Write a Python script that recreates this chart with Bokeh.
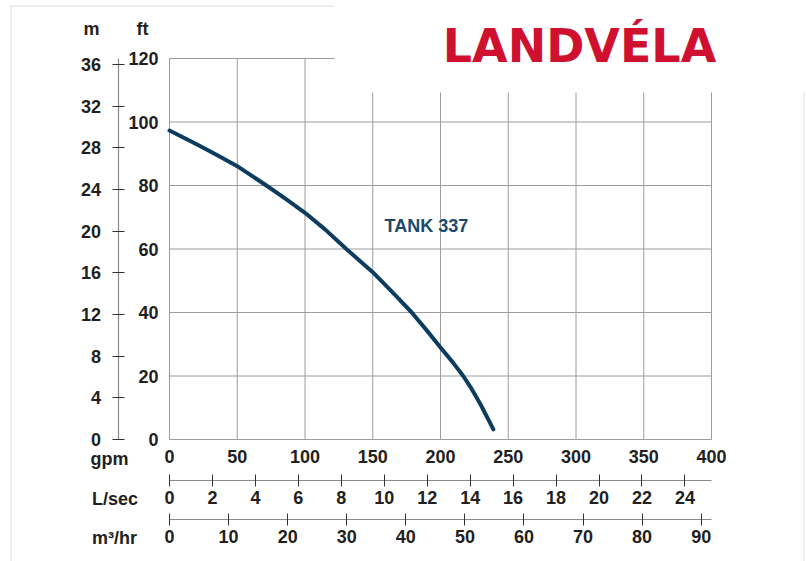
from bokeh.plotting import figure
from bokeh.models import Range1d, LinearAxis, FixedTicker, Label, BoxAnnotation
from bokeh.embed import file_html
from bokeh.resources import INLINE

# ---- data ----
flow_gpm = [0, 20, 35, 50, 71.5, 85, 100, 115, 130.5, 150, 165, 178.8, 190, 200, 208.5,
            216.8, 222, 226, 230, 233, 236, 239]
head_ft = [97.3, 93.0, 89.6, 86.1, 80, 76.0, 71.4, 66.1, 60, 52.7, 46.2, 40, 34.3, 29, 24.6,
           20, 16.6, 13.7, 10.7, 8.2, 5.7, 3.2]
series_name = "TANK 337"

gpm_ticks = [0, 50, 100, 150, 200, 250, 300, 350, 400]
ft_ticks = [0, 20, 40, 60, 80, 100, 120]
m_ticks = [0, 4, 8, 12, 16, 20, 24, 28, 32, 36]
lps_ticks = [0, 2, 4, 6, 8, 10, 12, 14, 16, 18, 20, 22, 24]
m3h_ticks = [0, 10, 20, 30, 40, 50, 60, 70, 80, 90]

GPM_MAX = 400
FT_MAX = 120
FT_PER_M = 3.28084
GPM_PER_LPS = 15.8503
GPM_PER_M3H = 4.36

# ---- layout: the frame covers the whole canvas; chart box is 169..711 x 58..439 px ----
W, H = 806, 561
X0, X1 = 169, 711
Y0, Y1 = 439, 58
SX = (X1 - X0) / GPM_MAX
SY = (Y0 - Y1) / FT_MAX

def px(x):
    return (x - X0) / SX

def py(y):
    return (Y0 - y) / SY

FONT = "Liberation Sans"
TXT = "#231f20"
GRID = "#9c9c9c"
AXLINE = "#8a8a8a"
CURVE = "#0c3d5f"

p = figure(frame_width=W, frame_height=H,
           min_border_left=0, min_border_right=0, min_border_top=0, min_border_bottom=0,
           x_range=Range1d(px(0), px(W)), y_range=Range1d(py(H), py(0)),
           x_axis_location=None, y_axis_location=None,
           output_backend="svg", toolbar_location=None, title=None)
p.outline_line_color = None
p.background_fill_color = "white"
p.border_fill_color = "white"
p.grid.visible = False

p.extra_y_ranges = {"m": Range1d(py(H) / FT_PER_M, py(0) / FT_PER_M)}
p.extra_x_ranges = {"lps": Range1d(px(0) / GPM_PER_LPS, px(W) / GPM_PER_LPS),
                    "m3h": Range1d(px(0) / GPM_PER_M3H, px(W) / GPM_PER_M3H)}

# grid lines, drawn from the tick arrays
p.segment(x0=gpm_ticks, y0=[0] * len(gpm_ticks), x1=gpm_ticks, y1=[FT_MAX] * len(gpm_ticks),
          line_color=GRID, line_width=1)
p.segment(x0=[0] * len(ft_ticks), y0=ft_ticks, x1=[GPM_MAX] * len(ft_ticks), y1=ft_ticks,
          line_color=GRID, line_width=1)

def style(ax, tick_len=0, standoff=8):
    ax.major_label_text_font = FONT
    ax.major_label_text_font_size = "18px"
    ax.major_label_text_font_style = "bold"
    ax.major_label_text_color = TXT
    ax.minor_tick_in = 0
    ax.minor_tick_out = 0
    ax.major_tick_in = tick_len
    ax.major_tick_out = tick_len
    ax.major_tick_line_color = "#333333" if tick_len else None
    ax.major_tick_line_width = 1
    ax.major_label_standoff = standoff
    ax.axis_line_color = AXLINE if tick_len else None
    ax.axis_line_width = 1.2

# ft axis
fa = LinearAxis(ticker=FixedTicker(ticks=ft_ticks), fixed_location=0, bounds=(0, FT_MAX))
style(fa, 0, 11)
p.add_layout(fa, "left")

# m axis
ma = LinearAxis(y_range_name="m", ticker=FixedTicker(ticks=m_ticks), fixed_location=px(117.5),
                bounds=(0, FT_MAX / FT_PER_M))
style(ma, 6, 11)
p.add_layout(ma, "left")

# gpm axis
ga = LinearAxis(ticker=FixedTicker(ticks=gpm_ticks), fixed_location=0, bounds=(0, GPM_MAX))
style(ga, 0, 10)
p.add_layout(ga, "below")

# L/sec axis
la = LinearAxis(x_range_name="lps", ticker=FixedTicker(ticks=lps_ticks), fixed_location=py(479.5),
                bounds=(0, GPM_MAX / GPM_PER_LPS))
style(la, 6, 5)
p.add_layout(la, "below")

# m3/hr axis
ca = LinearAxis(x_range_name="m3h", ticker=FixedTicker(ticks=m3h_ticks), fixed_location=py(518.5),
                bounds=(0, GPM_MAX / GPM_PER_M3H))
style(ca, 6, 5)
p.add_layout(ca, "below")

# curve
p.line(flow_gpm, head_ft, line_color=CURVE, line_width=4, line_cap="round", line_join="round")

def lab(text, x, y, align="left", size="18px", color=TXT, style="bold", font=FONT,
        baseline="middle"):
    p.add_layout(Label(x=px(x), y=py(y), text=text, text_align=align, text_baseline=baseline,
                       text_font=font, text_font_size=size, text_color=color,
                       text_font_style=style))

lab(series_name, 384, 225.5, color="#1b4a6c")

# unit names
lab("m", 91, 28, align="center")
lab("ft", 142, 28, align="center")
lab("gpm", 90, 458)
lab("L/sec", 91.5, 498)
lab("m\u00b3/hr", 91.5, 537)

# page border and logo panel
p.add_layout(BoxAnnotation(left=px(10.5), right=px(803.5), top=py(5.5), bottom=py(H + 20),
                           fill_color=None, line_color="#8c8c8c", line_width=1))
p.add_layout(BoxAnnotation(left=px(334), right=px(W + 20), top=py(-20), bottom=py(92),
                           fill_color="white", fill_alpha=1, line_color=None))
lab("LANDV\u00c9LA", 579, 45, align="center", size="46px", color="#d0102f", font="DejaVu Sans",
    baseline="alphabetic")

open("out.html", "w").write(file_html(p, INLINE))
